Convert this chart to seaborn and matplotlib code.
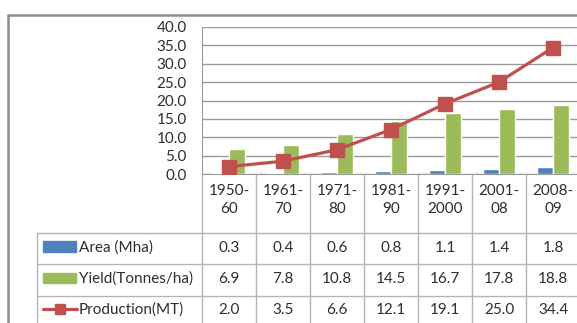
import numpy as np
import pandas as pd
import matplotlib
matplotlib.use("Agg")
import matplotlib.pyplot as plt
import seaborn as sns
from matplotlib.patches import Rectangle
from matplotlib.lines import Line2D
from matplotlib.transforms import blended_transform_factory

# datos
periodos = ["1950-\n60", "1961-\n70", "1971-\n80", "1981-\n90", "1991-\n2000", "2001-\n08", "2008-\n09"]
area = [0.3, 0.4, 0.6, 0.8, 1.1, 1.4, 1.8]
rendimiento = [6.9, 7.8, 10.8, 14.5, 16.7, 17.8, 18.8]
produccion = [2.0, 3.5, 6.6, 12.1, 19.1, 25.0, 34.4]
series = ["Area (Mha)", "Yield(Tonnes/ha)", "Production(MT)"]

AZUL = "#4F81BD"
VERDE = "#9BBB59"
ROJO = "#C0504D"
GRIS = "#8C8C8C"
GRIS_GRID = "#9A9A9A"
GRIS_TABLA = "#B4B4B4"
TEXTO = "#2E2E2E"

sns.set_style("white")
plt.rcParams['font.family'] = ['Lato', 'DejaVu Sans']
FS = 11

W, H = 577, 323
fig = plt.figure(figsize=(W / 100, H / 100), dpi=100)

def px(x, y):
    return x / W, 1 - y / H

# area del grafico en pixeles
x0, x1, ytop, ybot = 202, 580, 27, 174
ax = fig.add_axes([x0 / W, 1 - ybot / H, (x1 - x0) / W, (ybot - ytop) / H])

df = pd.DataFrame({
    "periodo": periodos * 2,
    "valor": area + rendimiento,
    "serie": [series[0]] * len(periodos) + [series[1]] * len(periodos),
})
sns.barplot(data=df, x="periodo", y="valor", hue="serie",
            palette=[AZUL, VERDE], width=0.6, legend=False, ax=ax,
            saturation=1, zorder=2)
ax.plot(np.arange(len(periodos)), produccion, color=ROJO, lw=2.3,
        marker="s", markersize=9.5, zorder=3)

ax.set_xlim(-0.5, len(periodos) - 0.5)
ax.set_ylim(0, 40)
ax.set_yticks(np.arange(0, 41, 5))
ax.set_yticklabels([f"{v:.1f}" for v in np.arange(0, 41, 5)], fontsize=FS, color=TEXTO)
ax.tick_params(axis="y", length=0, pad=11)
ax.set_xticks([])
ax.set_xlabel("")
ax.set_ylabel("")
ax.yaxis.grid(True, color=GRIS_GRID, lw=1)
ax.set_axisbelow(True)
for s in ["top", "right"]:
    ax.spines[s].set_visible(False)
ax.spines["left"].set_color(GRIS_GRID)
ax.spines["bottom"].set_color(GRIS_GRID)

# tabla de datos
tr = blended_transform_factory(ax.transData, fig.transFigure)
n = len(periodos)
y_tab_top = 1 - 233 / H
for i in range(n + 1):
    ax.plot([i - 0.5, i - 0.5], [1 - ybot / H, 0], transform=tr,
            color=GRIS_TABLA, lw=1, clip_on=False)
for yy in [233, 264, 296]:
    fig.add_artist(Line2D([37 / W, 1], [1 - yy / H] * 2, color=GRIS_TABLA, lw=1))
fig.add_artist(Line2D([37 / W] * 2, [y_tab_top, 0], color=GRIS_TABLA, lw=1))

for i, p in enumerate(periodos):
    ax.text(i, 1 - 200 / H, p, transform=tr, ha="center", va="center",
            fontsize=FS, color=TEXTO, linespacing=1.4)

filas = [area, rendimiento, produccion]
centros = [248, 279, 310]
for vals, yc in zip(filas, centros):
    for i, v in enumerate(vals):
        ax.text(i, 1 - yc / H, f"{v:.1f}", transform=tr, ha="center",
                va="center", fontsize=FS, color=TEXTO)

# claves de leyenda
fig.add_artist(Rectangle(px(43, 252), 33 / W, 11 / H, color=AZUL))
fig.add_artist(Rectangle(px(43, 283), 33 / W, 10 / H, color=VERDE))
fig.add_artist(Line2D([43 / W, 77 / W], [1 - 309 / H] * 2, color=ROJO, lw=2.3))
fig.add_artist(Rectangle(px(55, 314), 10 / W, 10 / H, color=ROJO))
for s, yc in zip(series, centros):
    fig.text(79 / W, 1 - yc / H, s, ha="left", va="center", fontsize=FS, color=TEXTO)

# borde exterior
fig.add_artist(Line2D([8 / W, 1], [1 - 15 / H] * 2, color=GRIS, lw=1.8))
fig.add_artist(Line2D([8 / W] * 2, [1 - 15 / H, 0], color=GRIS, lw=1.8))

fig.savefig("out.png", dpi=100)
